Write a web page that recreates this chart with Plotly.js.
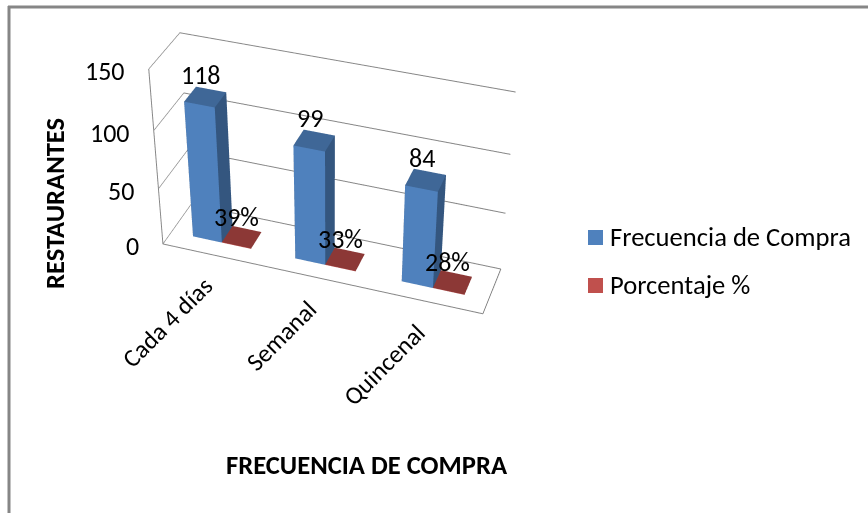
<!DOCTYPE html>
<html><head><meta charset="utf-8">
<script src="https://cdn.plot.ly/plotly-3.0.1.min.js"></script>
<style>
html,body{margin:0;padding:0;background:#fff;width:868px;height:513px;overflow:hidden}
#c{position:absolute;left:-570px;top:-448px;width:1800px;height:1240px}
</style></head>
<body><div id="c"></div>
<script>
// Purchase frequency survey: restaurants per category and their share
const categories = ['Cada 4 días', 'Semanal', 'Quincenal'];
const frecuencia = [118, 99, 84];
const porcentaje = [0.39, 0.33, 0.28];
const porcentajeLabels = ['39%', '33%', '28%'];
const yTicks = [0, 50, 100, 150];
const seriesNames = ['Frecuencia de Compra', 'Porcentaje %'];
const seriesColors = ['#4f81bd', '#c0504d'];

const FONT = 'Carlito, Lato, sans-serif';
const PLOT = {w: 1800, h: 1240, left: 570, top: 448};
const px = x => (x + PLOT.left) / PLOT.w;
const py = y => 1 - (y + PLOT.top) / PLOT.h;

// Clustered column layout inside each category slot
const BAR = 2 / 7, GAP = 1.5 / 7;
const DEPTH = [0.3, 0.7];

// Box mesh with separate colours for front, side and top faces
function box(x0, x1, h, cFront, cSide, cTop, name) {
  const [y0, y1] = DEPTH;
  return {
    type: 'mesh3d', name, showlegend: false, hoverinfo: 'name',
    x: [x0, x1, x1, x0, x0, x1, x1, x0],
    y: [y0, y0, y1, y1, y0, y0, y1, y1],
    z: [0, 0, 0, 0, h, h, h, h],
    i: [0, 0, 4, 4, 0, 0, 1, 1, 2, 2, 3, 3],
    j: [1, 2, 5, 6, 1, 5, 2, 6, 3, 7, 0, 4],
    k: [2, 3, 6, 7, 5, 4, 6, 5, 7, 6, 4, 7],
    facecolor: [cTop, cTop, cTop, cTop, cFront, cFront, cSide, cSide, cSide, cSide, cSide, cSide],
    flatshading: true,
    lighting: {ambient: 1, diffuse: 0, specular: 0, roughness: 1, fresnel: 0}
  };
}
const traces = [];
categories.forEach((c, n) => {
  traces.push(box(n + GAP, n + GAP + BAR, frecuencia[n], seriesColors[0], '#34567f', '#3f6797', seriesNames[0]));
  traces.push(box(n + GAP + BAR, n + GAP + 2 * BAR, porcentaje[n], seriesColors[1], '#7d2f2d', '#8c3836', seriesNames[1]));
});

// Text attached to the 3D scales
const sceneAnn = [];
const note3d = (x, y, z, text, extra) => sceneAnn.push(Object.assign({
  x, y, z, text, showarrow: false, font: {family: FONT, size: 26, color: '#000'}
}, extra));
yTicks.forEach(v => note3d(0, 0, v, String(v), {xanchor: 'right', xshift: -22, yshift: -2}));
categories.forEach((c, n) => note3d(n + 0.5, 0, 0, c, {textangle: -45, xanchor: 'right', yanchor: 'top', xshift: 8, yshift: -13, font: {family: FONT, size: 25, color: '#000'}}));
frecuencia.forEach((v, n) => note3d(n + GAP + BAR / 2, 0.5, v, String(v), {xshift: -4, yshift: 22}));
porcentaje.forEach((v, n) => note3d(n + GAP + 1.5 * BAR, 0.5, v, porcentajeLabels[n], {xshift: -5, yshift: 20}));

// Legend swatches, chart border and axis titles in page coordinates
const border = {color: '#868686', width: 3};
const shapes = [
  {type: 'line', xref: 'paper', yref: 'paper', x0: px(8), x1: px(868), y0: py(7), y1: py(7), line: border},
  {type: 'line', xref: 'paper', yref: 'paper', x0: px(9), x1: px(9), y0: py(6), y1: py(513), line: border}
];
const annotations = [];
const legendY = [237, 285];
const titleFont = {family: FONT, size: 26.6, color: '#000'};
seriesNames.forEach((s, k) => {
  shapes.push({type: 'rect', xref: 'paper', yref: 'paper', x0: px(588), x1: px(603), y0: py(legendY[k] - 7), y1: py(legendY[k] + 8), fillcolor: seriesColors[k], line: {width: 0}});
  annotations.push({xref: 'paper', yref: 'paper', x: px(608), y: py(legendY[k]), xanchor: 'left', yanchor: 'middle', text: s, showarrow: false, font: titleFont});
});
annotations.push({xref: 'paper', yref: 'paper', x: px(367), y: py(465), xanchor: 'center', yanchor: 'middle', text: '<b>FRECUENCIA DE COMPRA</b>', showarrow: false, font: titleFont});
annotations.push({xref: 'paper', yref: 'paper', x: px(55), y: py(204), xanchor: 'center', yanchor: 'middle', text: '<b>RESTAURANTES</b>', textangle: -90, showarrow: false, font: titleFont});

const axisBase = {showbackground: false, title: {text: ''}, showticklabels: false, showspikes: false,
  linecolor: '#868686', linewidth: 2, showline: true, gridcolor: '#868686', gridwidth: 2, zeroline: false};
const layout = {
  width: PLOT.w, height: PLOT.h, paper_bgcolor: '#fff', margin: {l: 0, r: 0, t: 0, b: 0},
  showlegend: false, shapes, annotations,
  scene: {
    domain: {x: [0, 1], y: [0, 1]},
    aspectmode: 'manual', aspectratio: {x: 1.527, y: 0.33, z: 0.946},
    camera: {eye: {x: 1.76, y: -5.11, z: 3.79}, center: {x: 0, y: 0, z: 0}, projection: {type: 'perspective'}},
    annotations: sceneAnn,
    xaxis: Object.assign({}, axisBase, {range: [0, 3], tickvals: [], showgrid: false}),
    yaxis: Object.assign({}, axisBase, {range: [0, 1], tickvals: [], showgrid: false}),
    zaxis: Object.assign({}, axisBase, {range: [0, 150], tickvals: yTicks})
  }
};
Plotly.newPlot('c', traces, layout, {displayModeBar: false});
</script></body></html>
